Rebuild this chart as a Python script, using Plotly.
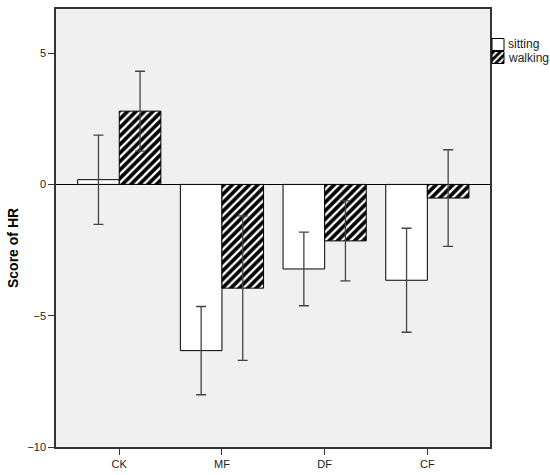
import plotly.graph_objects as go

categories = ["CK", "MF", "DF", "CF"]
sitting_mean = [0.18, -6.33, -3.22, -3.65]
sitting_err = [1.70, 1.68, 1.40, 1.98]
walking_mean = [2.79, -3.95, -2.15, -0.52]
walking_err = [1.52, 2.75, 1.52, 1.84]
y_ticks = [-10, -5, 0, 5]
series_names = ["sitting", "walking"]

W, H = 550, 475
ML, MR, MT, MB = 56, 60, 9, 28
PW, PH = W - ML - MR, H - MT - MB


def px_x(x):
    return (x - ML) / PW


def px_y(y):
    return 1 - (y - MT) / PH


err_style = dict(type="data", visible=True, color="#444444", thickness=1.3, width=5)

fig = go.Figure()
fig.add_trace(go.Bar(
    name="", x=categories, y=sitting_mean, legend="legend",
    error_y=dict(array=sitting_err, **err_style),
    marker=dict(color="white", line=dict(color="black", width=1)),
))
fig.add_trace(go.Bar(
    name="", x=categories, y=walking_mean, legend="legend2",
    error_y=dict(array=walking_err, **err_style),
    marker=dict(color="black", line=dict(color="black", width=1),
                pattern=dict(shape="/", bgcolor="black", fgcolor="white",
                             size=6, solidity=0.4, fillmode="replace")),
))

leg_common = dict(xanchor="left", yanchor="middle", bgcolor="rgba(0,0,0,0)",
                  itemwidth=30, font=dict(size=8), borderwidth=0)

fig.update_layout(
    width=W, height=H,
    margin=dict(l=ML, r=MR, t=MT, b=MB, autoexpand=False),
    paper_bgcolor="white", plot_bgcolor="#F0F0F0",
    barmode="group", bargap=0.19, bargroupgap=0,
    font=dict(family="Liberation Sans, Arial, sans-serif", size=11, color="#222222"),
    showlegend=True,
    legend=dict(x=px_x(478), y=px_y(44.5), **leg_common),
    legend2=dict(x=px_x(478), y=px_y(57.5), **leg_common),
    annotations=[
        dict(text="<b>Score of HR</b>", x=px_x(13), y=px_y(248),
             xref="paper", yref="paper", xanchor="center", yanchor="middle",
             showarrow=False, textangle=-90, font=dict(size=14, color="black")),
        dict(text=series_names[0], x=px_x(506), y=px_y(44.5),
             xref="paper", yref="paper", xanchor="left", yanchor="middle",
             showarrow=False, font=dict(size=12, color="#222222")),
        dict(text=series_names[1], x=px_x(506), y=px_y(57.5),
             xref="paper", yref="paper", xanchor="left", yanchor="middle",
             showarrow=False, font=dict(size=12, color="#222222")),
    ],
)
fig.update_xaxes(
    type="category", range=[-0.616, 3.61],
    showline=True, linecolor="#333333", linewidth=1.5, mirror=True,
    ticks="outside", ticklen=6, tickcolor="#333333",
    showgrid=False, zeroline=False,
)
fig.update_yaxes(
    range=[-10, 6.68], tickvals=y_ticks,
    showline=True, linecolor="#333333", linewidth=1.5, mirror=True,
    ticks="outside", ticklen=6, tickcolor="#333333",
    showgrid=False, zeroline=True, zerolinecolor="black", zerolinewidth=1,
)
fig.write_html("out.html",
               config={"displayModeBar": False},
               post_script="document.body.style.margin='0';document.body.style.overflow='hidden';")
